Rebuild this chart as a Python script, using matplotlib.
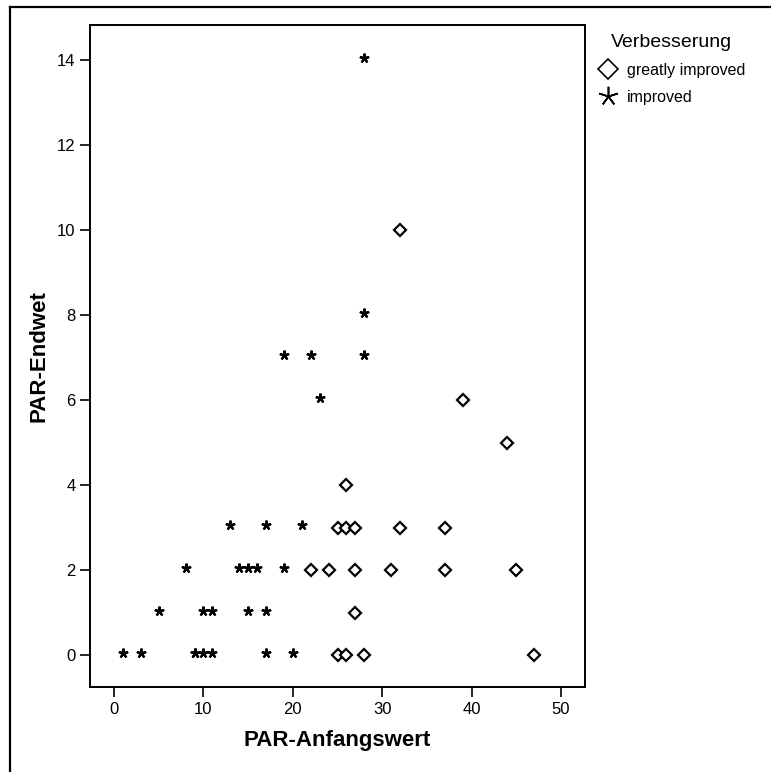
import matplotlib.pyplot as plt
from matplotlib.lines import Line2D
from matplotlib.transforms import offset_copy

plt.rcParams['font.family'] = ['Liberation Sans', 'DejaVu Sans']

# PAR start value (x) and end value (y), by improvement group
improved_x = [1, 3, 9, 9, 10, 11, 17, 20,
              5, 10, 11, 15, 17,
              8, 14, 15, 16, 19,
              13, 17, 21,
              23, 19, 22, 28, 28, 28]
improved_y = [0, 0, 0, 0, 0, 0, 0, 0,
              1, 1, 1, 1, 1,
              2, 2, 2, 2, 2,
              3, 3, 3,
              6, 7, 7, 7, 8, 14]

greatly_x = [25, 26, 28, 47,
             27,
             22, 24, 27, 31, 37, 45,
             25, 26, 27, 32, 37,
             26, 44, 39, 32]
greatly_y = [0, 0, 0, 0,
             1,
             2, 2, 2, 2, 2, 2,
             3, 3, 3, 3, 3,
             4, 5, 6, 10]

x_ticks = [0, 10, 20, 30, 40, 50]
y_ticks = [0, 2, 4, 6, 8, 10, 12, 14]

star = (5, 2, 0)

fig = plt.figure(figsize=(7.71, 7.72), dpi=100)
ax = fig.add_axes([90 / 771, 1 - 687 / 772, 495 / 771, 662 / 772])

ax.plot(greatly_x, greatly_y, linestyle='none', marker='D', markersize=6,
        markerfacecolor='white', markeredgecolor='black', markeredgewidth=1.6)
# asterisk path sits low, nudge it up a touch
star_tr = offset_copy(ax.transData, fig=fig, x=0, y=1.5, units='points')
ax.plot(improved_x, improved_y, linestyle='none', marker=star, markersize=7,
        markeredgecolor='black', markeredgewidth=1.6, transform=star_tr)

ax.set_xlim(-2.7, 52.7)
ax.set_ylim(-0.75, 14.82)
ax.set_xticks(x_ticks)
ax.set_yticks(y_ticks)
ax.tick_params(labelsize=12, length=7, width=1.2, color='black')
for s in ax.spines.values():
    s.set_linewidth(1.4)

ax.set_xlabel('PAR-Anfangswert', fontsize=16, fontweight='bold', labelpad=10)
ax.set_ylabel('PAR-Endwet', fontsize=16, fontweight='bold', labelpad=5)

handles = [
    Line2D([], [], linestyle='none', marker='D', markersize=10,
           markerfacecolor='white', markeredgecolor='black', markeredgewidth=1.2),
    Line2D([], [], linestyle='none', marker=star, markersize=14,
           markeredgecolor='black', markeredgewidth=1.2),
]
leg = fig.legend(handles, ['greatly improved', 'improved'], title='Verbesserung',
                 loc='upper left', bbox_to_anchor=(598 / 771, 1 - 34 / 772),
                 frameon=False, fontsize=11.5, title_fontsize=14,
                 handletextpad=0.5, handlelength=1.3, labelspacing=0.75,
                 borderaxespad=0, borderpad=0)

# outer frame lines along the left and top edges
fig.add_artist(Line2D([10 / 771, 10 / 771], [0, 1 - 7 / 772],
                      transform=fig.transFigure, color='black', linewidth=1.6))
fig.add_artist(Line2D([10 / 771, 1], [1 - 7 / 772, 1 - 7 / 772],
                      transform=fig.transFigure, color='black', linewidth=1.6))

fig.savefig('out.png', dpi=100)
